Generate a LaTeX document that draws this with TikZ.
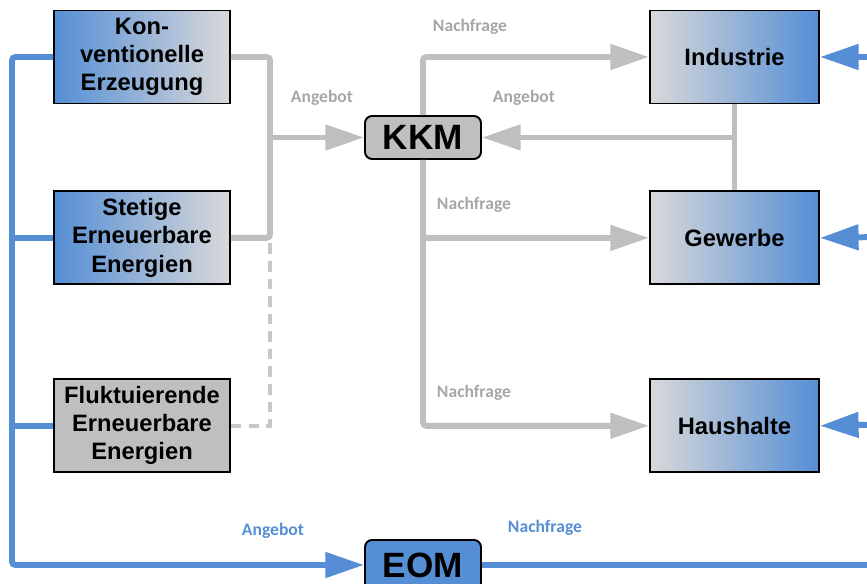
\documentclass[tikz,border=0pt]{standalone}
\usepackage{fontspec}
\setmainfont{Liberation Sans}
\newfontfamily\lblfont{Carlito}
\usepackage{tikz}
\usetikzlibrary{shapes,arrows,positioning,calc,arrows.meta}

\definecolor{mblue}{HTML}{558ED5}
\definecolor{mgrey}{HTML}{BFBFBF}
\definecolor{lgrey}{HTML}{D9D9D9}
\definecolor{dgrey}{HTML}{C8C8C8}
\definecolor{tgrey}{HTML}{A6A6A6}

\tikzset{
  box/.style={draw=black, line width=1.1pt, rectangle, minimum width=3.52cm, minimum height=1.86cm, align=center, font=\fontsize{13.5}{16}\selectfont\bfseries},
  srcbox/.style={box, left color=mblue, right color=lgrey},
  sinkbox/.style={box, minimum width=3.38cm, left color=lgrey, right color=mblue},
  market/.style={draw=black, line width=1.1pt, rectangle, rounded corners=4pt, minimum width=2.32cm, minimum height=0.86cm, font=\fontsize{20}{24}\selectfont\bfseries},
  greyline/.style={draw=mgrey, line width=3.4pt, rounded corners=2pt},
  greyarrow/.style={greyline, -{Triangle[length=22pt,width=14pt]}},
  greydash/.style={draw=dgrey, line width=2pt, dash pattern=on 6pt off 4pt},
  blueline/.style={draw=mblue, line width=3.4pt, rounded corners=2pt},
  bluearrow/.style={blueline, -{Triangle[length=22pt,width=14pt]}},
  lbl/.style={font=\lblfont\fontsize{10}{12}\selectfont\bfseries, text=tgrey},
  bluelbl/.style={lbl, text=mblue}
}

\begin{document}
\begin{tikzpicture}[x=0.02cm, y=-0.02cm]
    \clip (0,0) rectangle (867,584);

    % Erzeugung
    \node [srcbox] (konv) at (142,57) {Kon-\\ventionelle\\Erzeugung};
    \node [srcbox, below=1.72cm of konv] (stet) {Stetige\\Erneuerbare\\Energien};
    \node [box, fill=mgrey, below=1.86cm of stet] (fluk) {Fluktuierende\\Erneuerbare\\Energien};

    % Maerkte
    \node [market, fill=mgrey] (kkm) at (423,137.5) {KKM};
    \node [market, fill=mblue, minimum height=1cm] (eom) at (423,565) {EOM};

    % Verbraucher
    \node [sinkbox] (ind) at (734.5,57) {Industrie};
    \node [sinkbox, below=1.72cm of ind] (gew) {Gewerbe};
    \node [sinkbox, below=1.86cm of gew] (haus) {Haushalte};

    % Sammelpunkte und Raender
    \coordinate (gl) at (270,137.5);
    \coordinate (bl) at (12,565);
    \coordinate (rInd) at (880,57);
    \coordinate (rGew) at (880,237);
    \coordinate (rHaus) at (880,424.5);
    \coordinate (rEom) at (880,565);

    % Angebot KKM
    \draw [greyline] (konv.east) -| (gl) |- (stet.east);
    \draw [greydash] (fluk.east) -| (stet.east -| gl);
    \draw [greyarrow] (gl) -- (kkm.west);
    \draw [greyline] (ind.south) -- (gew.north);
    \draw [greyarrow] (ind.south |- kkm.east) -- (kkm.east);

    % Nachfrage KKM
    \draw [greyarrow] (kkm.north) |- (ind.west);
    \draw [greyarrow] (kkm.south) |- (haus.west);
    \draw [greyarrow] (kkm.south |- gew.west) -- (gew.west);

    % EOM
    \draw [bluearrow] (konv.west) -| (bl) -- (eom.west);
    \draw [blueline] (stet.west) -- (stet.west -| bl);
    \draw [blueline] (fluk.west) -- (fluk.west -| bl);
    \draw [blueline] (eom.east) -- (rEom);
    \draw [bluearrow] (rInd) -- (ind.east);
    \draw [bluearrow] (rGew) -- (gew.east);
    \draw [bluearrow] (rHaus) -- (haus.east);

    % Beschriftung
    \node [lbl] (angL) at (322,98) {Angebot};
    \node [lbl] (angR) at (524,98) {Angebot};
    \node [lbl] (nfInd) at (470,27) {Nachfrage};
    \node [lbl] (nfGew) at (474,205) {Nachfrage};
    \node [lbl] (nfHaus) at (474,393) {Nachfrage};
    \node [bluelbl] (angEom) at (273,531) {Angebot};
    \node [bluelbl] (nfEom) at (545,528) {Nachfrage};

\end{tikzpicture}
\end{document}
